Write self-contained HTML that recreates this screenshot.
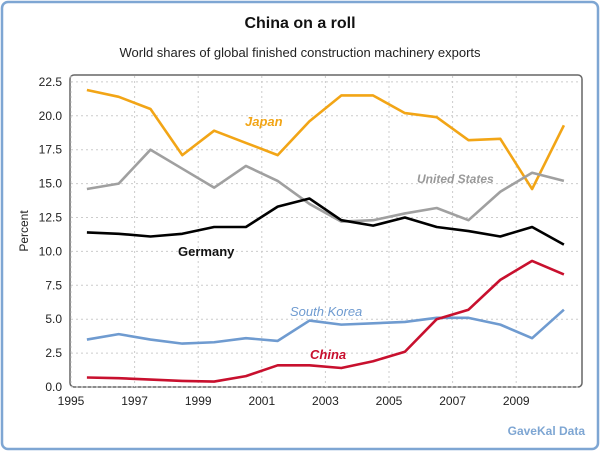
<!DOCTYPE html>
<html><head><meta charset="utf-8"><style>
body{margin:0;background:#fff;}
svg{display:block;font-family:"Liberation Sans",sans-serif;}
</style></head><body>
<svg id="chart" width="600" height="451">
<rect x="2" y="2" width="596" height="447" rx="6" fill="#fff" stroke="#7ea6d3" stroke-width="2.5"/>
<text x="300" y="28" text-anchor="middle" font-size="16" font-weight="bold" fill="#111">China on a roll</text>
<text x="300" y="57" text-anchor="middle" font-size="13" fill="#222">World shares of global finished construction machinery exports</text>
<rect x="70" y="75" width="512" height="312" rx="4" fill="none" stroke="#666" stroke-width="1.5"/>
<g id="grid"></g><g id="axes"></g><g id="series"></g>
<text transform="translate(28,231) rotate(-90)" text-anchor="middle" font-size="12" fill="#222">Percent</text>
<text x="585" y="435" text-anchor="end" font-size="12" font-weight="bold" fill="#7ea6d3">GaveKal Data</text>
<text x="245" y="126" font-size="13" font-weight="bold" font-style="italic" fill="#f2a516">Japan</text>
<text x="417" y="183" font-size="12" font-weight="bold" font-style="italic" fill="#999">United States</text>
<text x="178" y="256" font-size="13" font-weight="bold" fill="#111">Germany</text>
<text x="290" y="316" font-size="13" font-style="italic" fill="#6f9bd0">South Korea</text>
<text x="310" y="359" font-size="13" font-weight="bold" font-style="italic" fill="#c8102e">China</text>
</svg>
<script>
const years=[1995.5,1996.5,1997.5,1998.5,1999.5,2000.5,2001.5,2002.5,2003.5,2004.5,2005.5,2006.5,2007.5,2008.5,2009.5,2010.5];
const japan=[21.9,21.4,20.5,17.1,18.9,18.0,17.1,19.6,21.5,21.5,20.2,19.9,18.2,18.3,14.6,19.3];
const unitedStates=[14.6,15.0,17.5,16.1,14.7,16.3,15.2,13.5,12.2,12.3,12.8,13.2,12.3,14.4,15.8,15.2];
const germany=[11.4,11.3,11.1,11.3,11.8,11.8,13.3,13.9,12.3,11.9,12.5,11.8,11.5,11.1,11.8,10.5];
const southKorea=[3.5,3.9,3.5,3.2,3.3,3.6,3.4,4.9,4.6,4.7,4.8,5.1,5.1,4.6,3.6,5.7];
const china=[0.7,0.65,0.55,0.45,0.4,0.8,1.6,1.6,1.4,1.9,2.6,5.0,5.7,7.9,9.3,8.3];
const yTicks=[0,2.5,5,7.5,10,12.5,15,17.5,20,22.5];
const xTicks=[1995,1997,1999,2001,2003,2005,2007,2009];
const NS="http://www.w3.org/2000/svg";
const X=v=>71+(v-1995)*31.8;
const Y=v=>387-v*13.56;
function mk(t,a,p){const e=document.createElementNS(NS,t);for(const k in a)e.setAttribute(k,a[k]);p.appendChild(e);return e;}
const grid=document.getElementById('grid'),axes=document.getElementById('axes'),ser=document.getElementById('series');
yTicks.forEach(v=>{
 const l=mk('line',{x1:71,x2:581,y1:Y(v),y2:Y(v),stroke:'#ccc','stroke-dasharray':'2,3'},grid);
 
 
 const t=mk('text',{x:62,y:Y(v)+4,'text-anchor':'end','font-size':12,fill:'#222'},axes);
 t.textContent=v.toFixed(1);
 
 
});
xTicks.forEach(v=>{
 const l=mk('line',{x1:X(v),x2:X(v),y1:76,y2:387,stroke:'#ccc','stroke-dasharray':'2,3'},grid);
 
 
 const t=mk('text',{x:X(v),y:405,'text-anchor':'middle','font-size':12,fill:'#222'},axes);
 t.textContent=v;
 
 
});
[[japan,'#f2a516','line-japan'],[unitedStates,'#a0a0a0','line-united-states'],[germany,'#000','line-germany'],[southKorea,'#6f9bd0','line-south-korea'],[china,'#c8102e','line-china']].forEach(([d,c,n])=>{
 const p=mk('polyline',{points:d.map((v,i)=>X(years[i])+','+Y(v)).join(' '),fill:'none',stroke:c,'stroke-width':2.6,'stroke-linejoin':'round'},ser);
 
 
});
</script>
</body></html>
